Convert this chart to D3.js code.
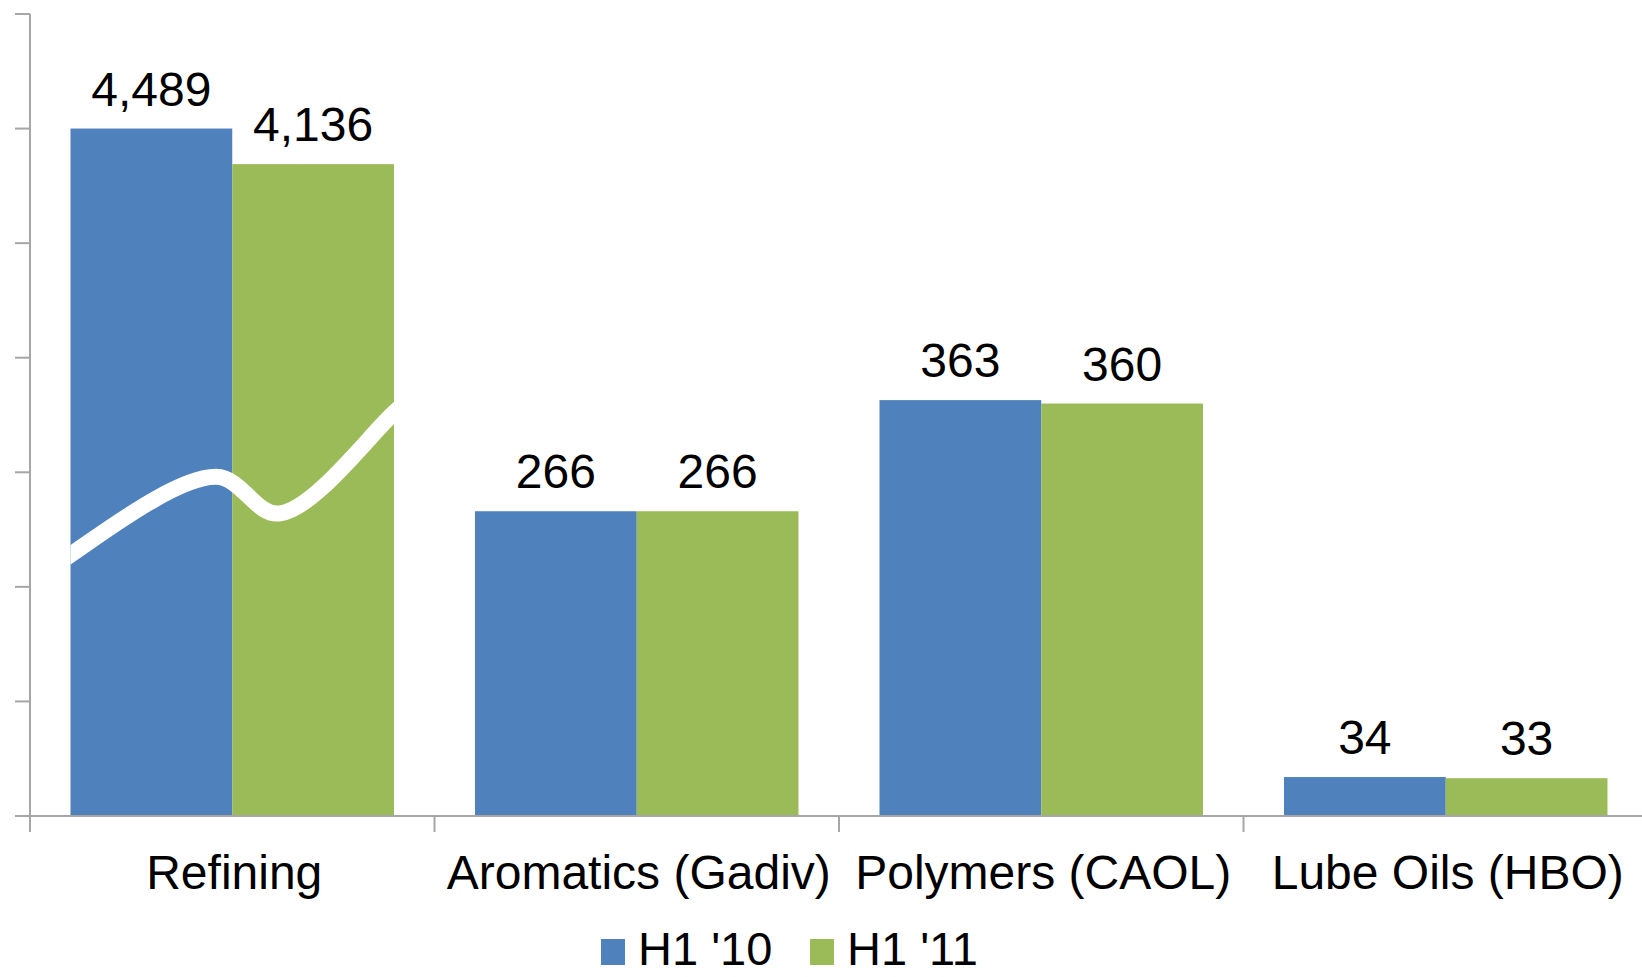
<!DOCTYPE html>
<html>
<head>
<meta charset="utf-8">
<script src="https://cdn.jsdelivr.net/npm/d3@7"></script>
<style>
  body { margin: 0; background: #fff; }
  text { font-family: "Liberation Sans", Arial, sans-serif; }
</style>
</head>
<body>
<div id="chart"></div>
<script>
// data
var categories = ["Refining", "Aromatics (Gadiv)", "Polymers (CAOL)", "Lube Oils (HBO)"];
var seriesNames = ["H1 '10", "H1 '11"];
var h1_10 = [4489, 266, 363, 34];
var h1_11 = [4136, 266, 360, 33];
var seriesColors = ["#4f81bd", "#9bbb59"];
var yTicks = [0, 100, 200, 300, 400, 500, 600, 700];

var W = 1642, H = 977;
var left = 30, baseY = 816, topY = 14, bandW = 404.5;

var svg = d3.select("#chart").append("svg")
    .attr("width", W)
    .attr("height", H);

var x0 = d3.scaleBand()
    .domain(categories)
    .range([left, left + bandW * categories.length])
    .paddingInner(0)
    .paddingOuter(0);

var x1 = d3.scaleBand()
    .domain(seriesNames)
    .range([40.5, bandW - 40.5])
    .padding(0);

// axis scale (no labels in the original)
var yAxisScale = d3.scaleLinear().domain([0, 700]).range([baseY, topY]);

// broken scale: values above the break are squeezed into the top of the plot
var yBar = d3.scaleLinear()
    .domain([0, 700, 4000, 5000])
    .range([yAxisScale(0), yAxisScale(700), yAxisScale(557), yAxisScale(645)]);

var rows = categories.map(function(c, i){
    return {cat: c, vals: [h1_10[i], h1_11[i]]};
});

// bars
var groups = svg.selectAll("g.grp")
    .data(rows)
    .enter().append("g")
    .attr("class", "grp")
    .attr("transform", function(d){ return "translate(" + x0(d.cat) + ",0)"; });

groups.selectAll("rect")
    .data(function(d){ return d.vals.map(function(v, j){ return {s: seriesNames[j], v: v, j: j}; }); })
    .enter().append("rect")
    .attr("x", function(d){ return x1(d.s); })
    .attr("y", function(d){ return yBar(d.v); })
    .attr("width", x1.bandwidth())
    .attr("height", function(d){ return baseY - yBar(d.v); })
    .attr("fill", function(d){ return seriesColors[d.j]; });

groups.selectAll("text.val")
    .data(function(d){ return d.vals.map(function(v, j){ return {s: seriesNames[j], v: v}; }); })
    .enter().append("text")
    .attr("class", "val")
    .attr("x", function(d){ return x1(d.s) + x1.bandwidth() / 2; })
    .attr("y", function(d){ return yBar(d.v) - 23; })
    .attr("text-anchor", "middle")
    .attr("font-size", 48)
    .attr("fill", "#000")
    .text(function(d){ return d3.format(",")(d.v); });

// break marker across the Refining bars
var gx = x0(categories[0]) + x1.range()[0];
var gw = x1.bandwidth() * 2;
svg.append("clipPath").attr("id", "brk")
    .append("rect")
    .attr("x", gx).attr("y", 0)
    .attr("width", gw).attr("height", baseY);

// [fraction of the bar pair, axis value]
var wavePts = [[-0.12, 200], [0, 228], [0.45, 296], [0.645, 264], [1.0, 352], [1.1, 380]];
svg.append("path")
    .attr("clip-path", "url(#brk)")
    .attr("d", d3.line()
        .x(function(p){ return gx + p[0] * gw; })
        .y(function(p){ return yAxisScale(p[1]); })
        .curve(d3.curveCatmullRom.alpha(0.5))(wavePts))
    .attr("fill", "none")
    .attr("stroke", "#fff")
    .attr("stroke-width", 16);

// y axis
var axisColor = "#a6a6a6";
svg.append("line")
    .attr("x1", left).attr("x2", left)
    .attr("y1", topY).attr("y2", baseY)
    .attr("stroke", axisColor).attr("stroke-width", 2);

svg.selectAll("line.ytick")
    .data(yTicks)
    .enter().append("line")
    .attr("class", "ytick")
    .attr("x1", left - 15).attr("x2", left)
    .attr("y1", function(d){ return yAxisScale(d); })
    .attr("y2", function(d){ return yAxisScale(d); })
    .attr("stroke", axisColor).attr("stroke-width", 2);

// x axis
svg.append("line")
    .attr("x1", left).attr("x2", W)
    .attr("y1", baseY).attr("y2", baseY)
    .attr("stroke", axisColor).attr("stroke-width", 2);

svg.selectAll("line.xtick")
    .data(categories)
    .enter().append("line")
    .attr("class", "xtick")
    .attr("x1", function(d){ return x0(d); })
    .attr("x2", function(d){ return x0(d); })
    .attr("y1", baseY).attr("y2", baseY + 16)
    .attr("stroke", axisColor).attr("stroke-width", 2);

svg.selectAll("text.cat")
    .data(categories)
    .enter().append("text")
    .attr("class", "cat")
    .attr("x", function(d){ return x0(d) + bandW / 2 + 2; })
    .attr("y", 889)
    .attr("text-anchor", "middle")
    .attr("font-size", 48)
    .attr("fill", "#000")
    .text(function(d){ return d; });

// legend
var legendX = [601, 810];
var leg = svg.selectAll("g.leg")
    .data(seriesNames)
    .enter().append("g")
    .attr("class", "leg")
    .attr("transform", function(d, i){ return "translate(" + legendX[i] + ",939)"; });

leg.append("rect")
    .attr("width", 24).attr("height", 26)
    .attr("fill", function(d, i){ return seriesColors[i]; });

leg.append("text")
    .attr("x", 37).attr("y", 26)
    .attr("font-size", 47)
    .attr("fill", "#000")
    .text(function(d){ return d; });
</script>
</body>
</html>
